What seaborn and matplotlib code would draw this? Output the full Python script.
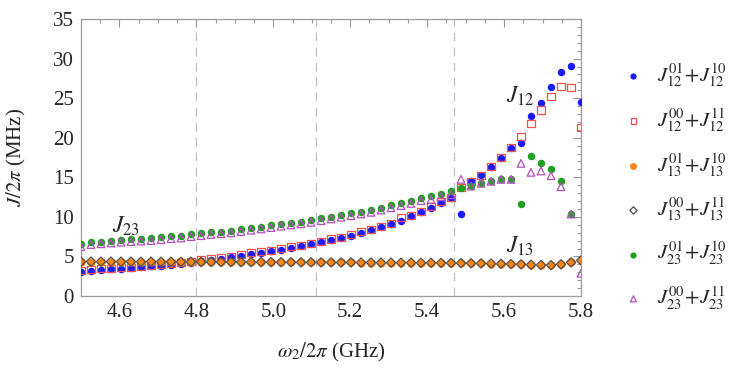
import numpy as np
import pandas as pd
import seaborn as sns
import matplotlib.pyplot as plt
from matplotlib.ticker import MultipleLocator

# frequency sweep (GHz)
omega2 = [4.5, 4.526, 4.552, 4.578, 4.604, 4.63, 4.656, 4.682, 4.708, 4.734, 4.76,
          4.786, 4.812, 4.838, 4.864, 4.89, 4.916, 4.942, 4.968, 4.994, 5.02, 5.046,
          5.072, 5.098, 5.124, 5.15, 5.176, 5.202, 5.228, 5.254, 5.28, 5.306, 5.332,
          5.358, 5.384, 5.41, 5.436, 5.462, 5.488, 5.514, 5.54, 5.566, 5.592, 5.618,
          5.644, 5.67, 5.696, 5.722, 5.748, 5.774, 5.8]

# J/2pi (MHz)
J12_a = [3.07, 3.2, 3.28, 3.37, 3.41, 3.49, 3.62, 3.75, 3.83, 3.92, 4.0, 4.21, 4.46,
         4.55, 4.68, 4.89, 5.1, 5.31, 5.47, 5.64, 5.85, 6.07, 6.27, 6.53, 6.78,
         7.08, 7.33, 7.62, 8.0, 8.34, 8.68, 9.06, 9.48, 10.11, 10.61, 11.16, 11.71,
         12.34, 10.32, 14.57, 15.29, 16.34, 17.48, 18.74, 19.37, 22.74, 24.43, 26.37,
         28.26, 29.06, 24.55]
J12_b = [3.25, 3.35, 3.45, 3.52, 3.58, 3.65, 3.78, 3.9, 3.98, 4.08, 4.18, 4.38, 4.6,
         4.72, 4.85, 5.05, 5.25, 5.45, 5.62, 5.8, 6.0, 6.2, 6.42, 6.68, 6.92,
         7.2, 7.45, 7.75, 8.12, 8.45, 8.8, 9.18, 9.9, 10.15, 10.7, 11.3, 12.0,
         12.4, 13.69, 14.45, 15.2, 16.34, 17.45, 18.74, 20.13, 21.77, 23.5, 25.19,
         26.53, 26.37, 21.31]
J13_a = [4.35, 4.35, 4.34, 4.35, 4.34, 4.34, 4.33, 4.34, 4.33, 4.33, 4.32, 4.32, 4.31,
         4.31, 4.3, 4.3, 4.29, 4.29, 4.28, 4.28, 4.27, 4.27, 4.26, 4.26, 4.25,
         4.25, 4.24, 4.24, 4.23, 4.23, 4.22, 4.22, 4.21, 4.21, 4.2, 4.2, 4.19,
         4.18, 4.16, 4.14, 4.12, 4.1, 4.07, 4.04, 4.0, 3.95, 3.92, 3.9, 4.0, 4.25, 4.5]
J13_b = [4.35, 4.35, 4.34, 4.35, 4.34, 4.34, 4.33, 4.34, 4.33, 4.33, 4.32, 4.32, 4.31,
         4.31, 4.3, 4.3, 4.29, 4.29, 4.28, 4.28, 4.27, 4.27, 4.26, 4.26, 4.25,
         4.25, 4.24, 4.24, 4.23, 4.23, 4.22, 4.22, 4.21, 4.21, 4.2, 4.2, 4.19,
         4.18, 4.16, 4.14, 4.12, 4.1, 4.07, 4.04, 4.0, 3.95, 3.92, 3.9, 4.0, 4.25, 4.5]
J23_a = [6.53, 6.78, 6.86, 6.99, 7.08, 7.16, 7.25, 7.29, 7.41, 7.54, 7.62, 7.79, 7.92,
         8.04, 8.13, 8.25, 8.42, 8.59, 8.76, 8.93, 9.1, 9.26, 9.39, 9.6, 9.81,
         10.02, 10.24, 10.45, 10.66, 10.87, 11.16, 11.45, 11.71, 12.0, 12.34, 12.64, 12.95,
         13.31, 13.6, 13.9, 14.24, 14.49, 14.74, 14.74, 11.58, 17.69, 16.76, 16.05,
         14.49, 10.3, np.nan]
J23_b = [6.25, 6.5, 6.6, 6.7, 6.8, 6.88, 6.95, 7.0, 7.12, 7.25, 7.33, 7.5, 7.63,
         7.78, 7.87, 7.98, 8.15, 8.32, 8.48, 8.65, 8.82, 8.98, 9.12, 9.32, 9.52,
         9.74, 9.95, 10.15, 10.37, 10.58, 10.86, 11.15, 11.42, 11.7, 12.05, 12.2, 12.55,
         12.8, 14.74, 13.9, 14.24, 14.49, 14.74, 14.74, 16.76, 15.63, 15.8, 15.2,
         13.81, 10.36, 2.87]

labels = [r'$J_{12}^{01}\!+\!J_{12}^{10}$', r'$J_{12}^{00}\!+\!J_{12}^{11}$',
          r'$J_{13}^{01}\!+\!J_{13}^{10}$', r'$J_{13}^{00}\!+\!J_{13}^{11}$',
          r'$J_{23}^{01}\!+\!J_{23}^{10}$', r'$J_{23}^{00}\!+\!J_{23}^{11}$']
dashed_x = [4.8, 5.111, 5.471]

sns.set_theme(style="white")
plt.rcParams['font.family'] = ['Liberation Serif', 'DejaVu Serif']
plt.rcParams['mathtext.fontset'] = 'stix'

fig = plt.figure(figsize=(7.47, 3.73), dpi=100)
ax = fig.add_axes([0.1084, 0.2064, 0.6694, 0.7426])

frame = '#9a9a9a'
for xv in dashed_x:
    ax.axvline(xv, color='#c0c0c0', lw=0.9, ls=(0, (7, 5)), zorder=0)

# styles: (values, marker, face, edge, size)
series = [
    (J12_a, 'o', '#1a1aff', '#1a1aff', 20),
    (J12_b, 's', 'none', '#ff4d4d', 26),
    (J13_a, 'o', '#ff8412', '#ff8412', 26),
    (J13_b, 'D', 'none', '#505050', 22),
    (J23_a, 'o', '#1ea01e', '#1ea01e', 20),
    (J23_b, '^', 'none', '#b44fc0', 30),
]
for (vals, m, fc, ec, s), lab in zip(series, labels):
    sns.scatterplot(x=omega2, y=vals, marker=m, s=s, facecolor=fc, edgecolor=ec,
                    linewidth=0.9, label=lab, ax=ax, zorder=3)

ax.text(5.605, 25.2, r'$J_{12}$', fontsize=17, ha='left', va='center')
ax.text(5.605, 6.3, r'$J_{13}$', fontsize=17, ha='left', va='center')
ax.text(4.58, 8.8, r'$J_{23}$', fontsize=17, ha='left', va='center')

ax.set_xlim(4.5, 5.8)
ax.set_ylim(0, 35)
ax.xaxis.set_major_locator(MultipleLocator(0.2))
ax.xaxis.set_minor_locator(MultipleLocator(0.05))
ax.yaxis.set_major_locator(MultipleLocator(5))
ax.yaxis.set_minor_locator(MultipleLocator(1))
ax.tick_params(which='both', direction='in', top=True, right=True, color=frame,
               labelsize=15, width=0.8)
ax.tick_params(which='major', length=6, pad=5)
ax.tick_params(which='minor', length=3)
for sp in ax.spines.values():
    sp.set_color(frame)
    sp.set_linewidth(0.9)

ax.set_xlabel(r'$\omega_2/2\pi$ (GHz)', fontsize=15, labelpad=14)
ax.set_ylabel(r'$J/2\pi$ (MHz)', fontsize=15, labelpad=18)

h, l = ax.get_legend_handles_labels()
ax.legend_.remove()
fig.legend(h, l, loc='upper left', bbox_to_anchor=(0.795, 0.885), frameon=False,
           fontsize=15, labelspacing=0.82, handletextpad=0.15, markerscale=0.8)

fig.savefig('out.png', dpi=100)
